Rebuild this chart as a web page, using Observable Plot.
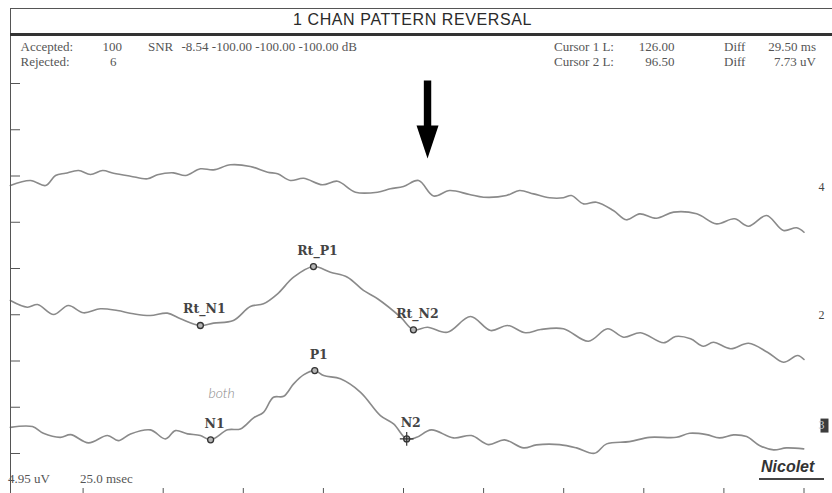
<!DOCTYPE html>
<html><head><meta charset="utf-8">
<script src="https://cdn.jsdelivr.net/npm/d3@7"></script>
<script src="https://cdn.jsdelivr.net/npm/@observablehq/plot@0.6"></script>
<style>
html,body{margin:0;padding:0;background:#fff;}
#wrap{position:relative;width:832px;height:493px;overflow:hidden;background:#fff;}
#chart{position:absolute;left:0;top:0;}
.t{position:absolute;white-space:nowrap;font-family:"Liberation Serif","Times New Roman",serif;font-size:13px;color:#555;line-height:1;}
.ln{position:absolute;background:#4a4a4a;}
</style></head><body>
<div id="wrap"><div id="chart"></div></div>
<script>
// ---------- data ----------
const chartTitle = "1 CHAN PATTERN REVERSAL";
const accepted = 100;
const rejected = 6;
const snrValues = [-8.54, -100.00, -100.00, -100.00];
const cursorLatencies = [126.00, 96.50];      // ms
const diffLatency = 29.50;                    // ms
const diffAmplitude = 7.73;                   // uV
const uvPerDiv = 4.95;
const msPerDiv = 25.0;
const brand = "Nicolet";
const noteText = "both";

const channelNames = ["4", "2", "3"];
const channelOffsets = [28.47, 14.85, 2.99];  // uV, baseline of each channel
const selectedChannel = "3";

const times4 = [2.3, 8.6, 13.3, 16.4, 19.5, 23.6, 27.3, 31.1, 34.5, 39.8, 45.1, 48.2, 53.2, 57.0, 61.6, 65.7, 71.0, 77.2, 82.6, 85.7, 89.7, 93.8, 99.7, 104.4, 110.0, 116.9, 120.9, 125.0, 129.7, 134.4, 139.4, 145.6, 150.0, 157.1, 161.2, 165.6, 170.6, 174.9, 177.4, 181.2, 185.2, 190.5, 194.6, 198.7, 203.9, 209.3, 216.5, 222.7, 228.3, 232.7, 238.3, 243.6, 247.7, 250.0];
const values4 = [0.21, 0.75, 0.21, 1.28, 1.53, 1.82, 1.39, 1.82, 1.53, 1.21, 0.93, 1.36, 1.57, 1.28, 2.00, 1.89, 2.43, 2.25, 1.64, 1.47, 0.75, 0.99, 0.29, 0.67, -0.50, -0.50, -0.14, 0.11, 0.75, -0.91, -0.32, -0.75, -1.04, -0.86, -0.32, -0.68, -1.10, -1.10, -0.86, -1.75, -1.57, -2.46, -3.46, -2.82, -3.29, -2.64, -2.82, -3.89, -3.35, -4.14, -3.00, -4.60, -4.31, -4.79];

const times2 = [2.3, 7.6, 10.8, 15.8, 20.4, 25.1, 30.4, 35.7, 40.7, 46.0, 51.3, 55.4, 61.6, 65.7, 71.9, 77.2, 81.3, 85.7, 90.7, 96.9, 102.2, 107.5, 112.5, 116.9, 124.1, 128.1, 132.5, 138.7, 145.9, 152.2, 157.5, 163.1, 167.8, 174.9, 182.7, 188.7, 193.7, 199.0, 206.2, 209.9, 214.6, 218.6, 221.7, 227.1, 232.7, 238.6, 243.6, 248.0, 250.0];
const values2 = [1.53, 0.81, 1.10, 0.03, 0.99, 0.21, 0.64, 0.45, 0.10, -0.08, 0.17, -0.43, -1.15, -0.90, -0.62, 0.88, 1.17, 2.24, 4.02, 5.16, 4.55, 4.02, 2.60, 1.71, -0.26, -1.61, -1.33, -1.87, -0.19, -1.69, -1.15, -1.93, -1.58, -1.50, -2.83, -1.50, -2.40, -1.93, -3.00, -2.33, -2.57, -3.37, -2.94, -3.64, -3.05, -4.01, -5.08, -4.36, -4.79];

const times3 = [2.3, 9.2, 12.6, 17.9, 21.1, 26.7, 32.6, 36.0, 39.8, 46.0, 50.7, 53.8, 57.6, 61.6, 64.8, 70.1, 74.1, 78.2, 81.3, 84.4, 87.6, 90.7, 93.8, 97.3, 100.1, 105.3, 111.6, 117.8, 121.9, 126.0, 129.1, 133.7, 140.6, 146.2, 151.5, 156.5, 162.5, 166.5, 173.7, 179.0, 184.6, 188.4, 195.5, 201.8, 210.2, 214.3, 219.6, 223.6, 228.0, 232.1, 236.1, 240.5, 244.5, 249.9];
const values3 = [-0.19, -0.11, -0.83, -1.26, -0.97, -1.85, -1.07, -1.61, -0.89, -0.46, -1.43, -0.54, -0.89, -1.07, -1.53, -0.46, -0.36, 0.82, 1.42, 3.03, 3.13, 4.46, 5.42, 5.88, 5.35, 5.00, 3.56, 1.07, 0.18, -1.43, -1.26, -0.46, -1.32, -1.07, -2.04, -1.53, -2.39, -2.07, -2.04, -2.39, -2.97, -1.96, -1.72, -1.26, -1.26, -0.83, -0.97, -1.32, -1.00, -1.18, -2.14, -2.60, -2.39, -2.50];

const peakNames = ["Rt_N1", "Rt_P1", "Rt_N2", "N1", "P1", "N2"];
const peakChannels = ["2", "2", "2", "3", "3", "3"];
const peakTimes = [61.6, 96.9, 128.1, 64.8, 97.3, 126.0];
const peakValues = [-1.15, 5.16, -1.61, -1.53, 5.88, -1.43];

const arrowTime = 132.5;   // ms, annotation arrow on channel 4
const arrowLevel = 31.57;  // uV (tip)

// ---------- derived tables ----------
const timesByCh = [times4, times2, times3];
const valuesByCh = [values4, values2, values3];
const traces = channelNames.flatMap((c, i) =>
  timesByCh[i].map((t, j) => ({channel: c, t, uv: channelOffsets[i] + valuesByCh[i][j]})));
const offsetOf = c => channelOffsets[channelNames.indexOf(c)];
const peaks = peakNames.map((name, i) => ({name, t: peakTimes[i], uv: offsetOf(peakChannels[i]) + peakValues[i]}));
const channels = channelNames.map((name, i) => ({name, uv: channelOffsets[i]}));
const yTicks = d3.range(0, 9).map(i => i * uvPerDiv);
const xTicks = d3.range(1, 11).map(i => i * msPerDiv);
const yDomain = [-0.865 * uvPerDiv, 9.795 * uvPerDiv];

const arrowShape = {
  draw(ctx, l) {
    const hw = 3.7, headW = 11, headL = 33;
    ctx.moveTo(-hw, 0);
    ctx.lineTo(-hw, -(l - headL));
    ctx.lineTo(-headW, -(l - headL));
    ctx.lineTo(0, -l);
    ctx.lineTo(headW, -(l - headL));
    ctx.lineTo(hw, -(l - headL));
    ctx.lineTo(hw, 0);
    ctx.closePath();
  }
};
const boxSymbol = {draw(ctx) { ctx.rect(-4, -7, 8, 14); }};

const chart = Plot.plot({
  width: 832, height: 493,
  marginLeft: 2.5, marginRight: 28.5, marginTop: 0, marginBottom: 0,
  x: {domain: [0, 250]},
  y: {domain: yDomain},
  style: {background: "transparent", overflow: "visible"},
  marks: [
    Plot.axisY(yTicks, {anchor: "left", tickSize: -10, dx: 7.5, stroke: "#555", fill: "none", label: null}),
    Plot.axisX(xTicks, {anchor: "bottom", tickSize: -5, stroke: "#555", fill: "none", label: null}),
    Plot.line(traces, {x: "t", y: "uv", z: "channel", stroke: "#8a8a8a", strokeWidth: 1.6, curve: "catmull-rom"}),
    Plot.dot(peaks, {x: "t", y: "uv", r: 3, fill: "#b5b5b5", stroke: "#333", strokeWidth: 1.3}),
    Plot.dot(peaks.filter(p => p.name === "N2"), {x: "t", y: "uv", r: 4.5, symbol: "plus", stroke: "#333", strokeWidth: 1.2}),
    Plot.text(peaks, {x: "t", y: "uv", text: "name", dx: 4, dy: -16, fontFamily: "DejaVu Serif", fontWeight: "bold", fontSize: 12.5, fill: "#444"}),
    Plot.text(peaks.filter(p => p.name === "N1"), {x: "t", y: "uv", text: () => noteText, dx: 11, dy: -46, fontFamily: "Lato", fontStyle: "italic", fontWeight: 300, fontSize: 14, fill: "#8a8a8a"}),
    Plot.vector([{t: arrowTime, uv: arrowLevel}], {x: "t", y: "uv", length: 78, rotate: 180, anchor: "end", shape: arrowShape, fill: "#000", stroke: "none"}),
    Plot.dot(channels.filter(c => c.name === selectedChannel), {frameAnchor: "right", dx: 20.5, y: "uv", symbol: boxSymbol, fill: "#3c3c3c", stroke: "none"}),
    Plot.text(channels, {frameAnchor: "right", dx: 20.5, y: "uv", text: "name", fontFamily: "Liberation Serif", fontSize: 12, fill: c => c.name === selectedChannel ? "#d0d0d0" : "#444"})
  ]
});
document.getElementById("chart").appendChild(chart);

// ---------- header / footer text (HTML) ----------
const wrap = document.getElementById("wrap");
function addText(str, {left, right, top, cls = "t", style = {}}) {
  const d = document.createElement("div");
  d.className = cls;
  d.textContent = str;
  d.style.top = top + "px";
  if (left !== undefined) d.style.left = left + "px";
  if (right !== undefined) d.style.right = (832 - right) + "px";
  Object.assign(d.style, style);
  wrap.appendChild(d);
  return d;
}
function addLine(left, top, width, height, color) {
  const d = document.createElement("div");
  d.className = "ln";
  Object.assign(d.style, {left: left + "px", top: top + "px", width: width + "px", height: height + "px"});
  if (color) d.style.background = color;
  wrap.appendChild(d);
}
const f2 = v => v.toFixed(2);
addText(chartTitle, {left: 293, top: 12, style: {fontFamily: "'Liberation Sans', Arial, sans-serif", fontSize: "16px", color: "#2a2a2a", letterSpacing: "0.6px"}});
const r1 = 40, r2 = 55;
addText("Accepted:", {left: 20.5, top: r1});
addText(String(accepted), {right: 122, top: r1});
addText("SNR", {left: 148, top: r1});
addText(snrValues.map(f2).join(" ") + " dB", {left: 181.5, top: r1});
addText("Rejected:", {left: 20.5, top: r2});
addText(String(rejected), {left: 110, top: r2});
addText("Cursor 1 L:", {left: 554, top: r1});
addText(f2(cursorLatencies[0]), {right: 674.5, top: r1});
addText("Diff", {left: 724, top: r1});
addText(f2(diffLatency) + " ms", {right: 816, top: r1});
addText("Cursor 2 L:", {left: 554, top: r2});
addText(f2(cursorLatencies[1]), {right: 674.5, top: r2});
addText("Diff", {left: 724, top: r2});
addText(f2(diffAmplitude) + " uV", {right: 816, top: r2});
addText(f2(uvPerDiv) + " uV", {left: 8, top: 471.5});
addText(msPerDiv.toFixed(1) + " msec", {left: 80, top: 471.5});
addText(brand, {left: 761, top: 459, style: {fontFamily: "'Liberation Sans', Arial, sans-serif", fontSize: "16px", fontWeight: "bold", fontStyle: "italic", color: "#333"}});
addLine(759, 477.5, 65, 2, "#444");
addLine(10, 7.5, 822, 1.5, "#555");
addLine(9.5, 7.5, 1.5, 486, "#555");
addLine(10, 33, 822, 2.5, "#333");
</script>
</body></html>
